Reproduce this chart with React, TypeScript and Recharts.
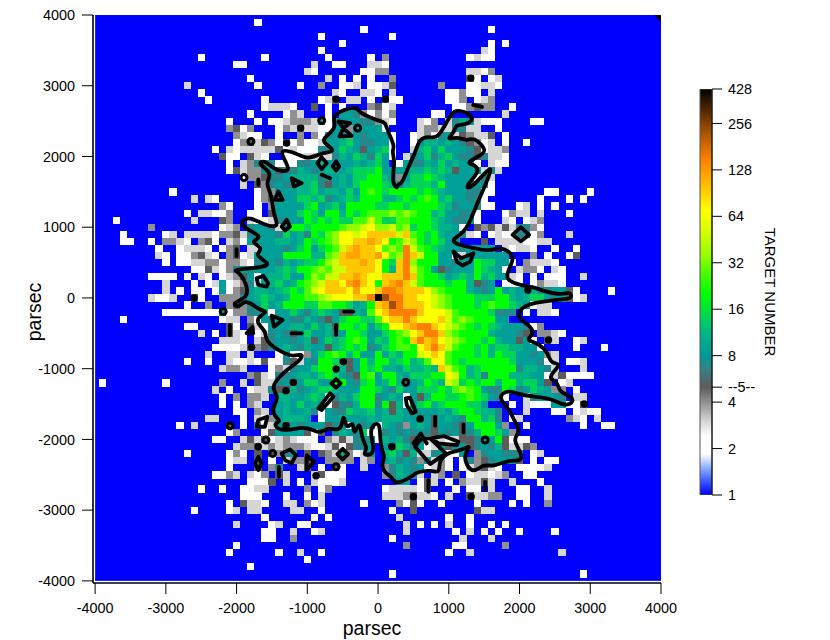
import React from 'react';
import { ScatterChart, Scatter, XAxis, YAxis, ReferenceLine, BarChart, Bar } from 'recharts';

const FONT = '"Liberation Sans", Arial, sans-serif';
const axisTicks = [-4000, -3000, -2000, -1000, 0, 1000, 2000, 3000, 4000];
const barTicks = [1, 2, 4, 5, 8, 16, 32, 64, 128, 256, 428];
const levelCount: Record<string, number> = { w: 2, l: 3, g: 4, d: 5, s: 7, t: 8.5, u: 11, v: 14, G: 20, h: 27, i: 35, y: 48, Y: 70, a: 95, o: 120, O: 150, B: 230, K: 428 };
const colourStops: [number, string][] = [
  [1, '#0000ff'], [1.25, '#4060ff'], [1.5, '#90b0ff'], [1.85, '#ffffff'], [2.4, '#ffffff'], [3, '#d6d6d6'], [4, '#909090'], [5, '#5c5c5c'],
  [6.5, '#3a8084'], [8, '#009a9a'], [11, '#00b488'], [14, '#00d458'], [20, '#00ff00'], [27, '#44ff00'], [35, '#90ff00'], [48, '#ccff00'],
  [70, '#ffff00'], [95, '#ffc800'], [120, '#ffa400'], [150, '#ff8000'], [230, '#a05000'], [428, '#000000'],
];

// rows of counts, "startColumn:codes", one column or row is 100 parsec
const rowsNorth = [ // y = 3900 .. 2100
  '-17:w', '-2:w 16:w', '-8:w 2:w', '-5:w 16:w 18:w', '-8:w 15:lw',
  '-25:w -16:w -7:w -1:w 1:g 13:wlww',
  '-20:ww -9:l -6:ww -1:llw',
  '-10:lw -2:wwgg 13:llwg',
  '-18:w -7:l -5:w -3:w -1:w 2:g 13:dw.wl',
  '-27:l -17:w -11:w -8:g -5:wwl -1:wwld 9:g 13:wwllw',
  '-25:w -6:lw -2:llw 2:l 10:wwgww.l',
  '-24:w -16:w -8:wld -4:ll -1:w 1:dww 10:wwg.wlg',
  '-16:wlllw -9:d -7:w -5:w -1:gdwl 11:wwgdgg 19:w',
  '-18:w -13:wgl -7:w -5:ttsgwgwg 8:ww 18:l',
  '-21:w -17:w -15:wwlgggltwstttssglw 6:lwg.lsutlwww 22:ww',
  '-21:gdwg -14:wgldllwwttgttttw 6:lgglltsll..w',
  '-20:glw -17:w -14:w -11:g -9:gw -7:sttgtstttw 5:wlgwstldglld.w',
  '-20:wgdldgwdwgwwlttuvtssttw 5:wtuututsdgwl.w 21:w',
  '-23:w -21:lwllllldwlwwwsstvutdtuvw 5:luvtvtttsdwllg',
];
const rowsMiddleUpper = [ // y = 2000 .. 100
  '-22:dww.dlw..wwwllwlsutvusv 1:tw.lstvsuvtssdsllw',
  '-21:w.lgstswwwsstuttttutuv 1:t.wtssutvtuttw.lww',
  '-21:wdlggstdssutstuutuvvvG 1:ttttuuvuvudtttlsl',
  '-19:wggdsstuuuusttutvvGG 1:utgtvvGvuttttwsl',
  '-19:l.dgstssuuvsdtutvGGG 1:vusuvvvuGtttstsw',
  '-29:w -17:wggtttuuvtuutvtGhG 1:vGGGGvGvutttssww 24:ww 30:w',
  '-26:l.lw -17:wgdsttvvuvstuvuGGG 1:uuvGvGhGuvttssw 23:w 27:w 29:w',
  '-22:gw -17:w.gttttvGtuvtGGGGv 1:vGGvGGGGvusttsww 20:wl 23:w 25:w',
  '-27:w.llwwg -18:ww.dtttvGvtGGuGvGhh 1:hihihGGuvttssw 18:wgll 23:l 27:w',
  '-37:w -26:l -22:dg -18:lwwlstttGvGvGvvhhyh 1:vvhhGGGvutsstw 18:lw.wlg',
  '-32:g -22:wlg.sttslsGGvGGGGhiiyYi 1:iyhivGGvuutw.dgdldlssgw',
  '-36:w -30:wl -27:llllwggdlstttsvtusGvhiYYyYaa 1:aayahGvGuttslw.wlwwsswg 27:l',
  '-36:ww -32:w -30:gglw.gdw.lgwttttuutuGvGhiYYaaoa 1:YGhyiGvGvtt...d.llllwwll',
  '-31:w -28:wlllw.wgd.lltttstvGtvGhyaoaaY 1:hihOyhGvuttstttt.lwllw..w 28:w',
  '-31:lw -28:wwgdlw.gdwlttttGGGGuuhiaooaao 1:YhiOayGGttwltttttt...g.w..wd',
  '-30:w.wwllggwgglwsttsutuvvGiyaaaoaY 1:GvaOiGGGttsttGvvttw.glllw',
  '-26:wwdlwgststttuvuGGhihyyaaaaY 1:GuaOyhGtdstttGvutw.lggw.lw',
  '-32:wwww -27:w -25:lw -22:wlgdtwtuuvttGihyyaaoaYY 1:aaaOahGGvtuvuGuvttlw.w.www 29:l',
  '-30:l -26:w -24:wl -22:twlgsltuvtuGhiyaaYoOaYG 1:aoOayhGGGvGGudst.www.wgllw',
  '-30:l -28:w -26:ww -23:wtwgdtuutuvGvhyYaaaYoYYa 1:OOoaaaYihGGGutstGtuttussttdw 33:w',
];
const rowsMiddleLower = [ // y = 0 .. -2000
  '-32:lwwl -26:dw -22:gggstuvutuGGhhiyYYYaaOK 1:BOOaaYYyihGGGvvvGGutuvvtstdwl',
  '-27:w -24:g -21:gdgstvtuGGGvvhhGGvtuGa 1:oBOaaaYyihGGGvGhGGvutwll',
  '-30:wwwwwwwwtwggssuwttvtsuvutdduthY 1:aOOOOaYYYyhGGGGvsss.w.llw',
  '-36:w -22:wll.gwtsttssutsdtvGGvvh 1:YaaOaYYYayhihGGGtt',
  '-27:ww -21:dw.dlwtttuutvtudGGvGtv 1:GYYaoOOaYyihGvGvutttswg',
  '-25:l -23:w -21:dlw.wlstsdtvttustGGvtt 1:vGhiYaOOaihGGGGutttsd.gglw',
  '-22:lllw.ldsttstudtvuvGhGtv 1:uGhGaOaoYyihGGvGuttdtw.dl 28:wl',
  '-23:wwwwldgdstutsuttduvGvGst 1:vGhhGYaOayhGGvGuvvuuttw 28:w 32:w',
  '-24:l -21:ll.l...wtwwgtvGhGuGttG 1:tvuGGyYaYhGGGvGuGvvttstgl',
  '-27:w -24:w -21:lwwlwdwwsdltsGGvtdtGuG 1:GuvGuvhYYhGvGGGGGGvtttswl 27:ww 29:l',
  '-22:lggl...wglsttvGGhudtGvG 1:uutvuuvuayhGuvGGGGGsuutsl 29:l',
  '-18:gdlwsstuutvGvtsdGht 1:GGutvvvGGYyGuvsGGGuuuttwldwwww',
  '-39:w -30:w -22:g -19:l.dllstdtvvttGGtsvGt 1:uGudtuGvuyivGvGGuGGuvvtd.wl',
  '-23:l.w..wllsddustuvvutttGGv 1:tsvttvvvGvhihGtssGvstvutgg.w',
  '-22:w.g.ggl.uuttuvuwsutvGGs 1:tutwtduGGvvGhGvtsw..lsttts.ll',
  '-22:w.w.gl..tutvtutwdssuGGs 1:GduwtvGuvGGGvvt...w.lwwwttwwd',
  '-20:ww.gl.tuttuswtssvuuvt 1:udutttttutvGGvuus...l 25:ww.wlww',
  '-24:ll -19:w.lwgtuuut.wttutttut 1:uuuttdtdtutsGGuvs.wl 27:glw.l',
  '-28:w -26:l -21:d.w.swltdtstttdsswtstw 1:utsgtutdttsdtGGGtg..w 29:w 32:ww',
  '-21:wg...wdttttdwd.sutsvww 1:stststsdtstdsuGGvtg',
  '-23:ww -19:ldldwlglwww.gldlstsw 1:utusdslllwlddsttGdwww',
];
const rowsSouth = [ // y = -2100 .. -3900
  '-20:lggdlglggglwwldwdsst 1:tdvustwltdttdstsudlldg',
  '-27:w -21:wgw.d.dgst.d.dglugwlt 1:uvtdullstwwt.gsttsss.wl',
  '-21:wll.d.w.lggd..gggg.lg 1:tustsgtlgw.wsgdstttd.w.ww',
  '-21:w -17:d.gs..ld.w.dw..l 1:gsutstwlgw.wlgdlw..wwwwl',
  '-23:wwgl.lwg.dl...ldwww 1:gsutsl.lg.d.wllwlg..ww',
  '-18:wwwd.l.w.lwwwl 3:tt.wdl.w.glldl 19:l 23:w',
  '-25:w -22:w -19:wwll -10:g -8:wg 1:wllllwd 11:w 13:ww 16:l 20:ww 24:l',
  '-19:www -13:w -10:w -8:l 1:lllgdllw 10:l 13:dllgg 20:ww 24:l',
  '-21:w -19:dllw -13:ll -10:gwl -2:w 3:gwdw 9:w 14:w 19:w 21:w 24:g',
  '-26:w -21:wl -18:ll -12:ll -8:w 2:w 5:d 14:dll',
  '-16:w -9:w -7:w 3:l 10:w 13:w',
  '-20:l -15:wl -11:ww 4:l 6:w 8:w 10:l 13:w 16:w 18:w',
  '-16:ww -12:l -9:wl 4:l 11:w 13:l 15:w 17:w 20:w 25:w',
  '-16:ww -12:g 2:w 12:l 16:l',
  '-20:w 4:g 11:ww 18:g',
  '-21:w -14:w -11:l -8:w 10:w 13:l 26:l',
  '-10:w',
  '-18:w',
  '2:w 29:w',
];

// contour of 5 targets per cell, parsec
const mainContour: [number, number][] = [
  [264,1560],[264,1599],[335,1599],[429,1858],[524,2047],[571,2212],[665,2292],[830,2245],[925,2401],[1033,2604],[1113,2670],[1325,2590],[1335,2495],[1222,2448],[1090,2448],[1090,2354],[958,2226],[1113,2283],[1255,2212],[1349,2283],[1538,2094],[1467,2024],[1231,1906],[1373,1882],[1443,1788],[1222,1566],[1302,1528],[1608,1882],[1585,1764],[1467,1481],[1373,1269],[1302,1080],[1208,915],[1019,811],[1137,750],[1373,703],[1561,656],[1726,726],[1892,632],[1915,538],[1821,349],[1821,255],[1986,184],[2175,160],[2363,90],[2599,42],[2717,90],[2741,-5],[2646,-14],[2410,-42],[2175,-75],[2009,-146],[1962,-288],[2175,-406],[2198,-524],[2080,-594],[2269,-642],[2410,-783],[2434,-925],[2599,-925],[2458,-1066],[2420,-1137],[2552,-1208],[2552,-1325],[2741,-1396],[2764,-1467],[2646,-1538],[2458,-1420],[2175,-1396],[1939,-1349],[1844,-1302],[1679,-1396],[1868,-1585],[1915,-1726],[2033,-1892],[1892,-1986],[2033,-2198],[2024,-2316],[1868,-2283],[1608,-2396],[1490,-2339],[1330,-2505],[1184,-2245],[1321,-2080],[1230,-2130],[1090,-2170],[972,-2198],[854,-2316],[877,-2481],[759,-2434],[547,-2457],[476,-2528],[335,-2599],[241,-2623],[193,-2528],[75,-2457],[52,-2340],[99,-2245],[52,-2151],[28,-2009],[28,-1750],[-75,-1797],[-113,-1892],[-66,-2080],[-66,-2222],[-231,-2222],[-137,-2127],[-231,-2009],[-255,-1703],[-349,-1986],[-349,-1703],[-443,-1891],[-490,-1608],[-514,-1844],[-585,-1868],[-717,-1835],[-821,-1915],[-915,-1868],[-1057,-1821],[-1245,-1868],[-1410,-1868],[-1481,-1773],[-1363,-1750],[-1458,-1679],[-1505,-1561],[-1387,-1396],[-1528,-1278],[-1363,-1066],[-1085,-877],[-1061,-783],[-1198,-830],[-1340,-783],[-1599,-618],[-1575,-476],[-1717,-358],[-1693,-264],[-1552,-193],[-1670,-170],[-1764,-99],[-1882,-28],[-1976,-146],[-2071,-75],[-1858,-5],[-1835,137],[-1953,373],[-2094,396],[-1599,434],[-1528,491],[-1764,608],[-1599,703],[-1835,797],[-1599,858],[-1906,986],[-1943,1094],[-1811,1151],[-1623,1033],[-1387,986],[-1481,1175],[-1505,1481],[-1599,1623],[-1481,1764],[-1717,1906],[-1599,1953],[-1481,1811],[-1245,1774],[-1290,1900],[-1410,2118],[-1151,2047],[-986,1953],[-821,2047],[-561,2071],[-821,2212],[-703,2307],[-585,2424],[-656,2566],[-491,2660],[-302,2708],[-255,2613],[-137,2566],[28,2495],[99,2495],[146,2330],[240,2141],[193,2071],[241,1953],[193,1623],[264,1560],
];
const smallLoops: [number, number][][] = [
  [[-561,2495],[-396,2472],[-491,2401],[-373,2292],[-547,2283],[-491,2401],[-561,2495]],
  [[-1222,1693],[-1080,1623],[-1189,1575],[-1222,1693]],
  [[-1410,1505],[-1349,1387],[-1458,1387],[-1410,1505]],
  [[-797,1991],[-726,1906],[-797,1821],[-858,1906],[-797,1991]],
  [[-640,1860],[-594,1930],[-550,1860],[-594,1800],[-640,1860]],
  [[-1363,1009],[-1292,1104],[-1245,1009],[-1316,953],[-1363,1009]],
  [[-1717,278],[-1623,311],[-1552,208],[-1575,160],[-1693,184],[-1717,278]],
  [[-1505,-250],[-1349,-311],[-1472,-406],[-1505,-250]],
  [[-1858,-500],[-1774,-406],[-1764,-500],[-1858,-500]],
  [[-844,-1561],[-679,-1349],[-632,-1396],[-797,-1585],[-844,-1561]],
  [[-660,-1208],[-594,-1147],[-528,-1208],[-594,-1269],[-660,-1208]],
  [[-1717,-1821],[-1693,-1726],[-1566,-1679],[-1599,-1821],[-1717,-1821]],
  [[-1363,-2198],[-1245,-2141],[-1160,-2222],[-1222,-2340],[-1316,-2293],[-1363,-2198]],
  [[-1740,-2340],[-1693,-2245],[-1646,-2340],[-1693,-2434],[-1740,-2340]],
  [[-1009,-2222],[-906,-2316],[-1009,-2434],[-1009,-2222]],
  [[-500,-2133],[-425,-2208],[-500,-2283],[-575,-2208],[-500,-2133]],
  [[391,-1420],[453,-1410],[533,-1608],[476,-1632],[406,-1514],[391,-1420]],
  [[594,-2009],[524,-2103],[736,-2349],[958,-2198],[736,-1986],[925,-1953],[1137,-2033],[1113,-2080],[854,-2056],[783,-2009],[736,-1986],[665,-1986],[594,-2009]],
  [[1901,892],[2019,1000],[2137,892],[2019,802],[1901,892]],
  [[1066,656],[1175,561],[1349,632],[1302,514],[1193,458],[1113,514],[1066,656]],
];
const shortStrokes: [number, number][][] = [
  [[-797,1741],[-679,1693]],
  [[-1693,1675],[-1693,1600]],
  [[-2000,690],[-2000,590]],
  [[-2094,-382],[-2094,-524]],
  [[-1222,-500],[-1080,-500]],
  [[-594,-382],[-594,-524]],
  [[-481,-193],[-349,-193]],
  [[-1401,-2387],[-1401,-2528]],
  [[712,-2575],[712,-2740]],
  [[1514,-2599],[1514,-2717]],
  [[807,-1679],[807,-1807]],
  [[1208,-1788],[1208,-1901]],
  [[500,-2057],[604,-1915],[689,-2057]],
  [[1345,2730],[1470,2700]],
  [[3945,4000],[4000,3940]],
];
const ringSpots: [number, number][] = [[-797,2509],[-1797,2212],[-1896,1703],[-2189,-193],[-2094,-1807],[-1585,-2009],[-1490,-2198],[-594,-2387],[392,-1193],[1514,-2009],[-288,2401]];
const blackSpots: [number, number][] = [[-594,2811],[-1094,2401],[-1292,2189],[104,2811],[1311,3108],[-1788,-698],[-2600,0],[-491,-900],[-594,-1005],[-1198,-1193],[-1302,-1311],[-1302,-1807],[-1693,-2104],[-877,-2514],[193,-2104],[500,-2811],[1316,-2811],[594,-1712],[2410,-594],[2915,-1500],[2118,113]];

const hexToRgb = (h: string) => [1, 3, 5].map((i) => parseInt(h.slice(i, i + 2), 16));
const colourOf = (n: number) => {
  for (let i = 1; i < colourStops.length; i++) {
    const [v1, c1] = colourStops[i];
    if (n <= v1) {
      const [v0, c0] = colourStops[i - 1];
      const t = (Math.log(n) - Math.log(v0)) / (Math.log(v1) - Math.log(v0));
      const a = hexToRgb(c0), b = hexToRgb(c1);
      return `rgb(${a.map((x, k) => Math.round(x + (b[k] - x) * t)).join(',')})`;
    }
  }
  return '#000';
};

const allRows = [...rowsNorth, ...rowsMiddleUpper, ...rowsMiddleLower, ...rowsSouth];
const cells = allRows.flatMap((row, index) =>
  row.split(' ').flatMap((seg) => {
    const [start, codes] = seg.split(':');
    return [...codes].flatMap((ch, i) => (levelCount[ch] ? [{ x: (Number(start) + i) * 100, y: (39 - index) * 100, n: levelCount[ch] }] : []));
  })
);
const toPoints = (list: [number, number][]) => list.map(([x, y]) => ({ x, y }));

const PX_PER_PC = 568 / 8030;
const CELL = 100 * PX_PER_PC;

const CellMark = (p: any) => <rect x={p.cx - CELL / 2} y={p.cy - CELL / 2} width={CELL + 0.2} height={CELL + 0.2} fill={colourOf(p.n ?? p.payload?.n)} shapeRendering="crispEdges" />;
const PlotBackground = (p: any) => <rect x={p.cx - 4000 * PX_PER_PC} y={p.cy - 4000 * PX_PER_PC} width={8000 * PX_PER_PC} height={8000 * PX_PER_PC} fill="#0000ff" />;
const NoMark = () => <g />;
const SpotMark = (p: any) => <circle cx={p.cx} cy={p.cy} r={3.7} fill="#000" />;
const RingMark = (p: any) => <circle cx={p.cx} cy={p.cy} r={3} fill="none" stroke="#000" strokeWidth={3} />;
const lineStyle = { stroke: '#000', strokeWidth: 3.8, strokeLinejoin: 'round', strokeLinecap: 'round', fill: 'none' } as any;

const tickStyle = { fontSize: 14.4, fontFamily: FONT, fill: '#000' };
const axisLineStyle = { stroke: '#000', strokeWidth: 1.6 };

export default function App() {
  return (
    <div style={{ position: 'absolute', left: 0, top: 0, width: 830, height: 640, background: '#fff' }}>
      <div style={{ position: 'absolute', left: 0, top: 0 }}>
        <ScatterChart width={700} height={640} margin={{ left: 13, top: 15, right: 39, bottom: 7 }}>
          <XAxis type="number" dataKey="x" domain={[-4030, 4000]} ticks={axisTicks} interval={0} height={50} tickSize={11} tickMargin={9}
            allowDataOverflow tick={tickStyle} axisLine={axisLineStyle} tickLine={{ stroke: '#000' }}
            label={{ value: 'parsec', position: 'insideBottom', offset: -2, dx: -5, style: { fontSize: 19.5, fontFamily: FONT, fill: '#000' } }} />
          <YAxis type="number" dataKey="y" domain={[-4030, 4000]} ticks={axisTicks} interval={0} width={80} tickSize={11} tickMargin={7}
            allowDataOverflow tick={tickStyle} axisLine={axisLineStyle} tickLine={{ stroke: '#000' }}
            label={{ value: 'parsec', angle: -90, position: 'insideLeft', offset: 21, dy: 13, style: { fontSize: 19.5, fontFamily: FONT, fill: '#000', textAnchor: 'middle' } }} />
          <Scatter data={[{ x: 0, y: 0 }]} shape={PlotBackground} isAnimationActive={false} />
          <Scatter data={cells} shape={CellMark} isAnimationActive={false} />
          {axisTicks.slice(1, -1).map((t) => (
            <ReferenceLine key={`v${t}`} x={t} stroke="rgba(170,170,210,0.55)" strokeDasharray="1 2" />
          ))}
          {axisTicks.slice(1, -1).map((t) => (
            <ReferenceLine key={`h${t}`} y={t} stroke="rgba(170,170,210,0.55)" strokeDasharray="1 2" />
          ))}
          <Scatter data={toPoints(mainContour)} shape={NoMark} line={lineStyle} lineType="joint" lineJointType="basisClosed" isAnimationActive={false} />
          {smallLoops.map((loop, i) => (
            <Scatter key={i} data={toPoints(loop.slice(0, -1))} shape={NoMark} line={lineStyle} lineType="joint" lineJointType="linearClosed" isAnimationActive={false} />
          ))}
          {shortStrokes.map((stroke, i) => (
            <Scatter key={`s${i}`} data={toPoints(stroke)} shape={NoMark} line={lineStyle} lineType="joint" isAnimationActive={false} />
          ))}
          <Scatter data={toPoints(blackSpots)} shape={SpotMark} isAnimationActive={false} />
          <Scatter data={toPoints(ringSpots)} shape={RingMark} isAnimationActive={false} />
        </ScatterChart>
      </div>
      <div style={{ position: 'absolute', left: 680, top: 0 }}>
        <BarChart width={150} height={640} data={[{ name: 'count', range: [1, 428] }]} margin={{ top: 89, bottom: 145, left: 20, right: 30 }} barCategoryGap={0}>
          <defs>
            <linearGradient id="targetScale" x1="0" y1="0" x2="0" y2="1">
              {[...colourStops].reverse().map(([v, c]) => (
                <stop key={v} offset={1 - Math.log(v) / Math.log(428)} stopColor={c} />
              ))}
            </linearGradient>
          </defs>
          <XAxis dataKey="name" hide />
          <YAxis orientation="right" scale="log" type="number" domain={[1, 428]} ticks={barTicks} interval={0} width={88} tickSize={10} tickMargin={6}
            allowDataOverflow tick={tickStyle} axisLine={{ stroke: '#000' }} tickLine={{ stroke: '#000' }}
            tickFormatter={(v: number) => (v === 5 ? '--5--' : String(v))}
            label={{ value: 'TARGET NUMBER', angle: 90, position: 'insideRight', offset: 30, dy: 0, style: { fontSize: 15, fontFamily: FONT, fill: '#000', textAnchor: 'middle' } }} />
          <Bar dataKey="range" fill="url(#targetScale)" stroke="#555" strokeWidth={1} isAnimationActive={false} />
        </BarChart>
      </div>
    </div>
  );
}
